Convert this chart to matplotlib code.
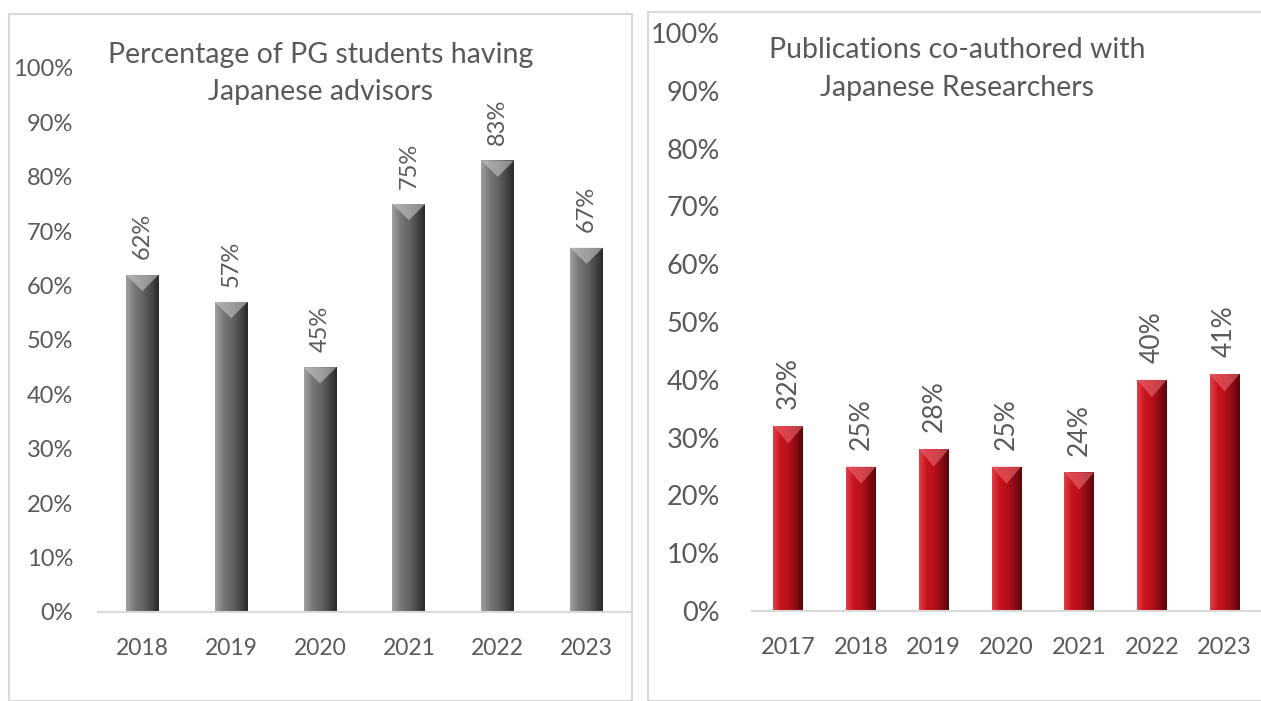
import numpy as np
import matplotlib.pyplot as plt
from matplotlib.colors import LinearSegmentedColormap
from matplotlib.patches import Rectangle, Polygon

plt.rcParams['font.family'] = ['Lato', 'DejaVu Sans']

# left chart: PG students with Japanese advisors
years_pg = ['2018', '2019', '2020', '2021', '2022', '2023']
pg_share = [0.62, 0.57, 0.45, 0.75, 0.83, 0.67]
title_pg = ['Percentage of PG students having', 'Japanese advisors']

# right chart: co-authored publications
years_pub = ['2017', '2018', '2019', '2020', '2021', '2022', '2023']
pub_share = [0.32, 0.25, 0.28, 0.25, 0.24, 0.40, 0.41]
title_pub = ['Publications co-authored with', 'Japanese Researchers']

txt = '#595959'
grid_c = '#d9d9d9'

gray_cm = LinearSegmentedColormap.from_list('g', ['#a0a0a0', '#787878', '#666666', '#4a4a4a', '#2a2a2a'])
red_cm = LinearSegmentedColormap.from_list('r', ['#e0404a', '#c8141f', '#b8101a', '#8c0c14', '#5a060b'])


def fancy_bars(ax, vals, width, cmap, top_c, bevel):
    x = np.arange(len(vals))
    bars = ax.bar(x, vals, width, color='none', edgecolor='none')
    grad = np.linspace(0, 1, 64).reshape(1, -1)
    for b in bars:
        x0, w, h = b.get_x(), b.get_width(), b.get_height()
        im = ax.imshow(grad, extent=[x0, x0 + w, 0, h], aspect='auto', cmap=cmap, zorder=2)
        im.set_clip_path(b)
        tri = Polygon([(x0, h), (x0 + w, h), (x0 + w / 2, h - bevel)], closed=True,
                      facecolor=top_c, edgecolor='none', alpha=0.55, zorder=3)
        ax.add_patch(tri)
    return x, bars


def style(ax, labels, ysize, xsize, ypad):
    ax.set_xlim(-0.5, len(labels) - 0.5)
    ax.set_ylim(0, 1)
    ax.set_xticks(np.arange(len(labels)))
    ax.set_xticklabels(labels)
    ticks = np.arange(0, 1.01, 0.1)
    ax.set_yticks(ticks)
    ax.set_yticklabels([f'{t:.0%}' for t in ticks])
    ax.tick_params(length=0, labelcolor=txt)
    ax.tick_params(axis='y', pad=ypad, labelsize=ysize)
    ax.tick_params(axis='x', pad=19, labelsize=xsize)
    for s in ['top', 'right', 'left']:
        ax.spines[s].set_visible(False)
    ax.spines['bottom'].set_color(grid_c)
    ax.spines['bottom'].set_linewidth(1.5)


fig = plt.figure(figsize=(12.61, 7.01), dpi=100)
W, H = 1261, 701

# panel borders
fig.patches.append(Rectangle((9 / W, 0), 623 / W, 1 - 14 / H, transform=fig.transFigure,
                             fill=False, edgecolor=grid_c, lw=1.5))
fig.patches.append(Rectangle((648 / W, 0), 620 / W, 1 - 12 / H, transform=fig.transFigure,
                             fill=False, edgecolor=grid_c, lw=1.5))

# left chart
ax1 = fig.add_axes([98 / W, 1 - 612 / H, 533 / W, 544 / H])
x, bars = fancy_bars(ax1, pg_share, 0.37, gray_cm, '#d0d0d0', 0.03)
for b, v in zip(bars, pg_share):
    ax1.annotate(f'{v:.0%}', (b.get_x() + b.get_width() / 2, v), xytext=(0, 11),
                 textcoords='offset points', rotation=90, ha='center', va='bottom',
                 fontsize=17, color=txt)
style(ax1, years_pg, 17, 16.5, 18)
fig.text(321 / W, 1 - 55 / H, title_pg[0], ha='center', va='center', fontsize=20.5, color=txt)
fig.text(321 / W, 1 - 92 / H, title_pg[1], ha='center', va='center', fontsize=20.5, color=txt)

# right chart
ax2 = fig.add_axes([752 / W, 1 - 611 / H, 509 / W, 578 / H])
x, bars = fancy_bars(ax2, pub_share, 0.41, red_cm, '#f07078', 0.03)
for b, v in zip(bars, pub_share):
    ax2.annotate(f'{v:.0%}', (b.get_x() + b.get_width() / 2, v), xytext=(0, 12),
                 textcoords='offset points', rotation=90, ha='center', va='bottom',
                 fontsize=19, color=txt)
style(ax2, years_pub, 19.5, 17, 23)
fig.text(957 / W, 1 - 50 / H, title_pub[0], ha='center', va='center', fontsize=20.5, color=txt)
fig.text(957 / W, 1 - 88 / H, title_pub[1], ha='center', va='center', fontsize=20.5, color=txt)

fig.savefig('out.png', dpi=100)
